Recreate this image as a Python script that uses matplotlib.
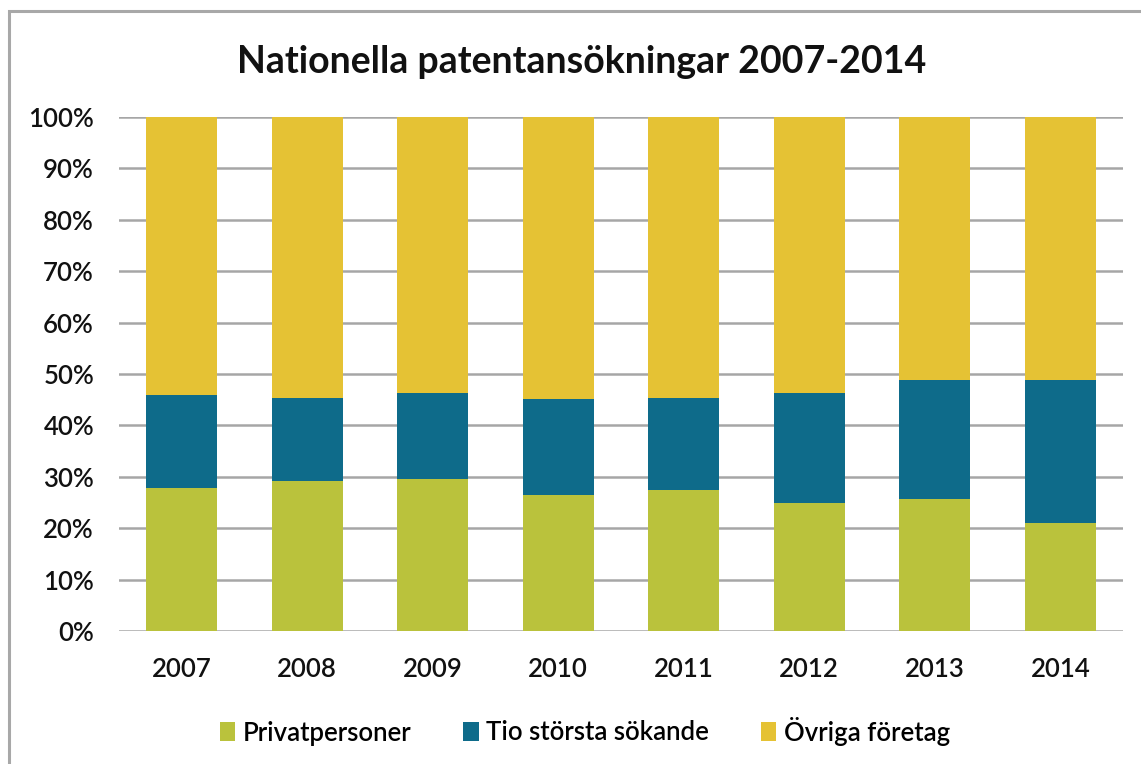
import matplotlib
matplotlib.use("Agg")
import matplotlib.pyplot as plt
from matplotlib.patches import Rectangle, Patch
import numpy as np

years = ["2007", "2008", "2009", "2010", "2011", "2012", "2013", "2014"]
privatpersoner = [27.8, 29.1, 29.5, 26.5, 27.4, 24.9, 25.7, 21.0]
tio_storsta = [18.2, 16.3, 16.9, 18.6, 18.0, 21.5, 23.2, 27.9]
ovriga = [100 - p - t for p, t in zip(privatpersoner, tio_storsta)]
series_names = ["Privatpersoner", "Tio största sökande", "Övriga företag"]
colors = ["#BAC23C", "#0E6B8A", "#E5C234"]
yticks = [0, 10, 20, 30, 40, 50, 60, 70, 80, 90, 100]

plt.rcParams['font.family'] = ['Lato', 'DejaVu Sans']

fig = plt.figure(figsize=(11.41, 7.64), dpi=100)
W, H = 1141, 764

# outer chart frame
fig.patches.append(Rectangle((9 / W, -0.1), 1.2, 1 - 11 / H + 0.1, transform=fig.transFigure,
                             fill=False, edgecolor="#A8A8A8", linewidth=2.2))

ax = fig.add_axes([119 / W, (H - 631) / H, 1004 / W, 514 / H])
x = np.arange(len(years))
w = 0.566
ax.bar(x, privatpersoner, width=w, color=colors[0], zorder=3)
ax.bar(x, tio_storsta, width=w, bottom=privatpersoner, color=colors[1], zorder=3)
bottom2 = [p + t for p, t in zip(privatpersoner, tio_storsta)]
ax.bar(x, ovriga, width=w, bottom=bottom2, color=colors[2], zorder=3)

ax.set_xlim(-0.5, len(years) - 0.5)
ax.set_ylim(0, 100)
ax.set_yticks(yticks)
ax.set_yticklabels([f"{v}%" for v in yticks], fontsize=18.5, color="#111111", fontweight="semibold")
ax.set_xticks(x)
ax.set_xticklabels(years, fontsize=18.5, color="#111111", fontweight="semibold")
ax.tick_params(axis="both", length=0)
ax.tick_params(axis="y", pad=18)
ax.tick_params(axis="x", pad=19)
for s in ax.spines.values():
    s.set_visible(False)
ax.yaxis.grid(True, color="#A6A6A6", linewidth=1.8, zorder=0)
ax.set_axisbelow(True)

fig.text(582 / W, 1 - 62 / H, "Nationella patentansökningar 2007-2014", ha="center", va="center",
         fontsize=27, fontweight="bold", color="#111111")

handles = [Patch(facecolor=c, edgecolor="none") for c in colors]
fig.legend(handles, series_names, loc="center", bbox_to_anchor=(585 / W, 1 - 731 / H),
           ncol=3, frameon=False, fontsize=18.5, handlelength=0.6, handleheight=0.8,
           handletextpad=0.3, columnspacing=2.0, prop={"weight": "semibold", "size": 18.5})

fig.savefig("out.png", dpi=100)
